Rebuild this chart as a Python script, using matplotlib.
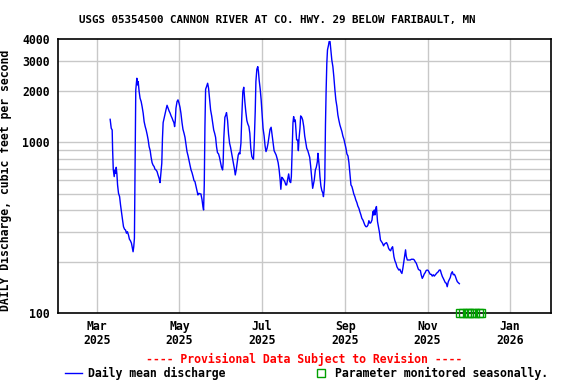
import numpy as np
import matplotlib
matplotlib.use('Agg')
import matplotlib.pyplot as plt
import matplotlib.ticker as mticker
from matplotlib.lines import Line2D
import pandas as pd

plt.rcParams['font.family'] = ['DejaVu Sans Mono']
plt.rcParams['font.weight'] = 'bold'
plt.rcParams['axes.labelweight'] = 'bold'

title = 'USGS 05354500 CANNON RIVER AT CO. HWY. 29 BELOW FARIBAULT, MN'
ylabel = 'DAILY Discharge, cubic feet per second'

# days after 2025-03-01, daily mean discharge (cfs)
days = [9.6, 10.4, 11.1, 11.4, 11.9, 12.6, 13.1, 13.6, 14.1, 14.6, 15.1, 15.8, 16.6, 17.3,
        18.1, 18.8, 19.5, 20.3, 21.0, 21.7, 22.4, 23.2, 23.9, 24.6, 25.4, 26.1, 26.6, 27.1,
        27.6, 28.1, 28.6, 29.4, 29.9, 30.4, 31.1, 31.8, 32.6, 33.3, 34.1, 34.8, 35.6, 36.3,
        37.1, 37.8, 38.5, 39.3, 39.9, 40.7, 41.4, 42.2, 42.9, 43.6, 44.4, 45.1, 45.9, 46.6,
        47.1, 47.9, 48.4, 48.9, 49.6, 50.3, 51.1, 51.8, 52.6, 53.3, 54.1, 54.8, 55.6, 56.2,
        56.9, 57.4, 57.9, 58.4, 59.2, 59.9, 60.7, 61.4, 62.1, 62.9, 63.6, 64.4, 65.1, 65.9,
        66.6, 67.4, 68.1, 68.8, 69.6, 70.3, 71.1, 71.8, 72.5, 73.2, 73.9, 74.7, 75.4, 76.2,
        76.9, 77.7, 78.4, 78.9, 79.4, 79.9, 80.4, 81.1, 81.9, 82.6, 83.4, 84.1, 84.9, 85.6,
        86.4, 87.1, 87.8, 88.5, 89.2, 90.0, 90.7, 91.5, 92.2, 93.0, 93.4, 93.9, 94.7, 95.4,
        95.9, 96.7, 97.4, 98.2, 98.9, 99.6, 100.4, 101.1, 101.9, 102.4, 103.1, 103.9, 104.6,
        105.4, 105.8, 106.6, 107.2, 108.0, 108.7, 109.5, 110.2, 111.0, 111.7, 112.5, 113.2,
        113.9, 114.7, 115.4, 115.9, 116.4, 117.2, 117.7, 118.4, 119.1, 119.6, 120.1, 120.9,
        121.6, 122.4, 123.0, 123.8, 124.5, 125.2, 126.0, 126.7, 127.5, 128.2, 129.0, 129.7,
        130.4, 131.2, 131.9, 132.7, 133.4, 134.2, 134.9, 135.7, 136.2, 136.9, 137.6, 138.4,
        139.1, 139.9, 140.5, 141.3, 142.0, 142.8, 143.5, 144.0, 144.5, 145.2, 145.7, 146.2,
        146.9, 147.4, 147.9, 148.7, 149.2, 149.7, 150.4, 150.9, 151.7, 152.4, 153.2, 153.9,
        154.7, 155.4, 156.2, 156.9, 157.6, 158.3, 159.0, 159.8, 160.3, 161.0, 161.8, 162.5,
        163.3, 163.7, 164.2, 164.7, 165.2, 165.9, 166.6, 167.4, 167.8, 168.3, 168.8, 169.3,
        169.8, 170.3, 170.8, 171.6, 172.0, 172.7, 173.2, 174.0, 174.8, 175.5, 176.3, 177.0,
        177.8, 178.5, 179.2, 180.0, 180.7, 181.5, 182.2, 183.0, 183.7, 184.5, 185.2, 186.0,
        186.7, 187.5, 188.2, 188.9, 189.6, 190.3, 191.1, 191.8, 192.6, 193.3, 194.1, 194.8,
        195.6, 196.3, 197.1, 197.8, 198.5, 199.3, 200.0, 200.8, 201.5, 202.3, 203.0, 203.8,
        204.5, 205.0, 205.5, 206.0, 206.7, 207.1, 207.9, 208.6, 209.4, 210.1, 210.9, 211.6,
        212.4, 213.1, 213.9, 214.6, 215.4, 216.1, 216.8, 217.6, 218.3, 219.1, 219.6, 220.1,
        220.8, 221.6, 222.3, 223.0, 223.7, 224.5, 225.2, 226.0, 226.7, 227.4, 228.2, 228.7,
        229.2, 230.0, 230.7, 231.5, 232.2, 233.0, 233.7, 234.5, 235.2, 235.9, 236.7, 237.4,
        238.2, 238.9, 239.7, 240.3, 241.1, 241.8, 242.6, 243.3, 244.0, 244.8, 245.5, 246.3,
        247.0, 247.8, 248.5, 249.3, 250.0, 250.8, 251.5, 252.2, 253.0, 253.7, 254.5, 255.2,
        256.0, 256.7, 257.5, 258.2, 258.9, 259.6, 260.4, 261.1, 261.9, 262.6, 263.4, 264.1,
        264.9, 265.6, 266.4, 267.1, 267.9, 268.6]
flow = [1362, 1208, 1180, 922, 695, 630, 689, 659, 714, 653, 563, 503, 481, 430,
        384, 351, 321, 310, 307, 294, 300, 287, 271, 266, 257, 240, 229, 245,
        275, 721, 2023, 2368, 2164, 2263, 1978, 1808, 1729, 1617, 1478, 1321, 1235, 1180,
        1104, 1032, 943, 893, 824, 760, 736, 721, 695, 689, 674, 644, 616, 581,
        644, 754, 1055, 1303, 1381, 1465, 1560, 1645, 1581, 1525, 1478, 1426, 1381, 1339,
        1303, 1235, 1339, 1581, 1729, 1770, 1690, 1602, 1478, 1303, 1191, 1129, 1069, 964,
        882, 832, 781, 736, 689, 665, 630, 597, 589, 555, 526, 492, 503, 499,
        499, 464, 421, 402, 563, 1235, 2042, 2116, 2214, 2070, 1770, 1545, 1426, 1303,
        1180, 1129, 1069, 943, 870, 855, 817, 760, 714, 689, 754, 1055, 1400, 1445,
        1491, 1339, 1119, 986, 935, 870, 806, 747, 689, 644, 689, 771, 843,
        870, 855, 986, 1381, 1978, 2097, 1729, 1512, 1339, 1280, 1235, 1129,
        922, 824, 806, 796, 964, 1512, 2263, 2673, 2768, 2590, 2315, 2042,
        1770, 1426, 1208, 1089, 952, 882, 922, 986, 1089, 1191, 1224, 1104,
        986, 893, 870, 843, 806, 760, 695, 602, 531, 624, 616, 602,
        589, 563, 563, 608, 653, 589, 581, 630, 843, 1303, 1413, 1321,
        1351, 1180, 1032, 1032, 893, 1055, 1208, 1426, 1400, 1351, 1235, 1089,
        995, 922, 893, 855, 817, 727, 630, 538, 563, 602, 689, 714,
        771, 862, 788, 721, 630, 555, 522, 503, 481, 526, 616, 1263,
        2023, 2897, 3467, 3709, 3878, 3878, 3545, 3030, 2768, 2421, 2023, 1770,
        1617, 1445, 1351, 1263, 1208, 1154, 1089, 1041, 986, 922, 855, 832,
        760, 644, 563, 551, 526, 499, 481, 460, 444, 424, 411, 393,
        376, 359, 351, 339, 328, 321, 321, 328, 348, 336, 339, 351,
        393, 376, 402, 376, 411, 421, 344, 321, 296, 268, 262, 257,
        248, 254, 257, 259, 251, 240, 235, 232, 240, 245, 229, 214,
        203, 196, 187, 183, 179, 181, 175, 171, 183, 200, 222, 235,
        216, 205, 205, 205, 205, 207, 207, 207, 205, 200, 196, 189,
        181, 179, 178, 168, 160, 164, 170, 173, 178, 179, 178, 173,
        169, 169, 165, 168, 165, 168, 171, 173, 175, 179, 179, 171,
        164, 160, 155, 151, 150, 143, 153, 157, 162, 171, 175, 168,
        169, 165, 158, 153, 151, 149]

seasonal_dates = ['2025-11-25', '2025-11-27', '2025-11-30', '2025-12-02',
                  '2025-12-04', '2025-12-06', '2025-12-09', '2025-12-11']

tick_dates = ['2025-03-01', '2025-05-01', '2025-07-01', '2025-09-01', '2025-11-01', '2026-01-01']
tick_labels = ['Mar\n2025', 'May\n2025', 'Jul\n2025', 'Sep\n2025', 'Nov\n2025', 'Jan\n2026']
ymajor = [100, 1000, 2000, 3000, 4000]
ygrid = [200, 300, 400, 500, 600, 700, 800, 900, 1000, 2000, 3000]

base = pd.Timestamp('2025-03-01')
dates = base + pd.to_timedelta(days, unit='D')

fig = plt.figure(figsize=(5.76, 3.84), dpi=100)
ax = fig.add_axes([58/576, 1 - 313.3/384, 493/576, 274/384])

ax.plot(dates, flow, color='#0000ff', lw=1.0, zorder=3)
ax.plot(pd.to_datetime(seasonal_dates), [100]*len(seasonal_dates), ls='none', marker='s',
        ms=6, mfc='none', mec='#00a000', mew=1.0, clip_on=False, zorder=4)

ax.set_yscale('log')
ax.set_ylim(100, 4000)
ax.set_xlim(pd.Timestamp('2025-01-30 22:00'), pd.Timestamp('2026-01-31 14:00'))

ax.yaxis.set_major_locator(mticker.FixedLocator(ymajor))
ax.yaxis.set_major_formatter(mticker.FixedFormatter([str(v) for v in ymajor]))
ax.yaxis.set_minor_locator(mticker.NullLocator())
for v in ygrid:
    ax.axhline(v, color='#c8c8c8', lw=1.0, zorder=1)

ax.set_xticks(pd.to_datetime(tick_dates))
ax.set_xticklabels(tick_labels, linespacing=1.05)
ax.grid(axis='x', color='#c8c8c8', lw=1.0, zorder=1)

ax.tick_params(axis='both', length=0, labelsize=8.3)
ax.tick_params(axis='x', pad=5)
ax.tick_params(axis='y', pad=6)
for s in ax.spines.values():
    s.set_linewidth(1.2)

ax.set_ylabel(ylabel, fontsize=8.3, fontweight='bold')
ax.yaxis.set_label_coords(-0.093, 0.486)

fig.text(277/576, 1 - 20/384, title, ha='center', va='center', fontsize=7.8)
fig.text(304/576, 1 - 359.5/384, '---- Provisional Data Subject to Revision ----',
         ha='center', va='center', fontsize=8.3, color='#ff0000')

fig.add_artist(Line2D([65/576, 82/576], [1 - 372.5/384]*2, color='#0000ff', lw=1.0))
fig.text(88/576, 1 - 373/384, 'Daily mean discharge', ha='left', va='center', fontsize=8.3)
fig.add_artist(Line2D([321/576], [1 - 373/384], marker='s', ms=6, mfc='none',
                      mec='#00a000', mew=1.0))
fig.text(335/576, 1 - 373/384, 'Parameter monitored seasonally.', ha='left', va='center',
         fontsize=8.3)

fig.savefig('out.png', dpi=100)
